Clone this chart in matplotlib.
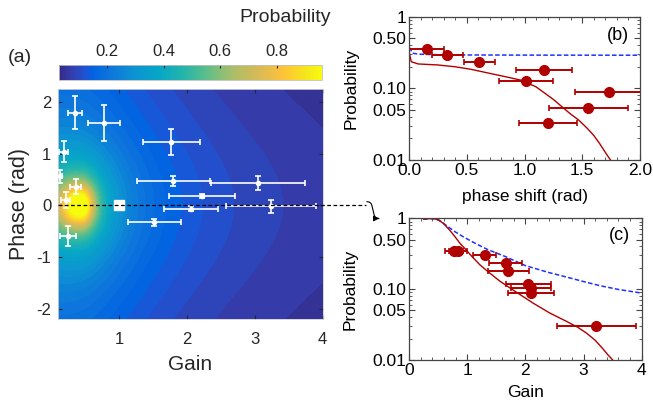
import numpy as np
import matplotlib
matplotlib.use("Agg")
import matplotlib.pyplot as plt
from matplotlib.colors import LinearSegmentedColormap, Normalize
from matplotlib.cm import ScalarMappable
from matplotlib.ticker import MultipleLocator, FixedLocator, NullFormatter, LogLocator, FormatStrFormatter

plt.rcParams["font.family"] = ["Liberation Sans", "DejaVu Sans"]
plt.rcParams["axes.unicode_minus"] = False

# (a) measured points: gain, phase and their errors
a_gain = [0.345, 0.775, 1.77, 0.18, 0.12, 0.36, 0.21, 1.80, 3.05, 2.22, 2.06, 3.24, 1.52, 0.24]
a_phase = [1.79, 1.59, 1.23, 1.04, 0.56, 0.36, 0.10, 0.47, 0.43, 0.18, -0.07, -0.02, -0.33, -0.59]
a_gain_err = [0.10, 0.24, 0.42, 0.07, 0.04, 0.08, 0.07, 0.54, 0.69, 0.49, 0.40, 0.67, 0.39, 0.12]
a_phase_err = [0.32, 0.35, 0.25, 0.21, 0.13, 0.14, 0.15, 0.10, 0.14, 0.04, 0.05, 0.12, 0.07, 0.19]

# theory surface parameters for the probability map
g_peak = 0.43
w_gain_left = 0.22
w_gain_right = 0.127
w_phase = 0.29
phase_gain_coupling = 0.76
tail_power = 0.2

# (b) probability vs phase shift
b_phase = [0.153, 0.332, 0.609, 1.169, 1.013, 1.734, 1.553, 1.206]
b_prob = [0.354, 0.295, 0.233, 0.180, 0.128, 0.088, 0.054, 0.033]
b_phase_err = [0.153, 0.137, 0.134, 0.245, 0.238, 0.30, 0.34, 0.25]
b_blue_x = [0.0, 0.01, 0.03, 0.08, 0.3, 1.0, 2.0]
b_blue_y = [0.37, 0.36, 0.31, 0.30, 0.293, 0.291, 0.290]
b_red_x = [0.0, 0.005, 0.02, 0.08, 0.25, 0.40, 0.54, 0.69, 0.83, 0.97, 1.10, 1.25, 1.39,
           1.47, 1.54, 1.60, 1.65, 1.69, 1.73, 1.745]
b_red_y = [0.34, 0.30, 0.235, 0.219, 0.212, 0.200, 0.184, 0.163, 0.146, 0.130, 0.105, 0.070,
           0.045, 0.036, 0.028, 0.022, 0.017, 0.0135, 0.0108, 0.010]

# (c) probability vs gain
c_gain = [0.77, 0.84, 1.30, 1.66, 1.71, 2.05, 2.10, 2.10, 3.22]
c_prob = [0.35, 0.35, 0.307, 0.237, 0.180, 0.117, 0.105, 0.089, 0.030]
c_gain_err = [0.15, 0.15, 0.20, 0.28, 0.36, 0.385, 0.34, 0.395, 0.68]
c_blue_x = [0.25, 0.35, 0.45, 0.52, 0.59, 0.69, 0.79, 0.93, 1.08, 1.22, 1.36, 1.65, 2.0,
            2.4, 2.71, 3.0, 3.28, 3.6, 4.0]
c_blue_y = [0.97, 0.99, 0.99, 0.94, 0.85, 0.74, 0.647, 0.55, 0.47, 0.41, 0.36, 0.29, 0.215,
            0.172, 0.148, 0.128, 0.112, 0.099, 0.088]
c_red_x = [0.25, 0.35, 0.45, 0.52, 0.59, 0.70, 0.79, 0.88, 0.98, 1.08, 1.22, 1.36, 1.56,
           1.79, 2.14, 2.42, 2.71, 2.90, 3.05, 3.20, 3.33, 3.42, 3.47, 3.50]
c_red_y = [0.97, 0.99, 0.98, 0.93, 0.85, 0.68, 0.55, 0.44, 0.36, 0.29, 0.22, 0.176, 0.13,
           0.097, 0.063, 0.046, 0.035, 0.029, 0.024, 0.019, 0.0145, 0.0118, 0.0107, 0.010]

# parula-like colormap (position, colour)
parula = LinearSegmentedColormap.from_list("parula", [
    (0 / 63, (0.2081, 0.1663, 0.5292)), (3 / 63, (0.2081, 0.2386, 0.6771)),
    (6 / 63, (0.1253, 0.3242, 0.8303)),
    (8 / 63, (0.0117, 0.3875, 0.8820)), (12 / 63, (0.0498, 0.4586, 0.8641)),
    (18 / 63, (0.0488, 0.5772, 0.8228)), (24 / 63, (0.0228, 0.6535, 0.7768)),
    (30 / 63, (0.1453, 0.7098, 0.6646)), (36 / 63, (0.3953, 0.7459, 0.5244)),
    (42 / 63, (0.6834, 0.7435, 0.4044)), (48 / 63, (0.8506, 0.7299, 0.3360)),
    (54 / 63, (0.9990, 0.7653, 0.2164)), (60 / 63, (0.9599, 0.9218, 0.0948)),
    (63 / 63, (0.9763, 0.9831, 0.0538))])
norm = Normalize(0.03, 0.96)

fig = plt.figure(figsize=(6.53, 4.03), dpi=100)
W, H = 653.0, 403.0
ax_a = fig.add_axes([58.3 / W, 84 / H, 264.2 / W, 230 / H])
cax = fig.add_axes([59 / W, 323 / H, 263 / W, 15 / H])
ax_b = fig.add_axes([409 / W, 243 / H, 231 / W, 143.3 / H])
ax_c = fig.add_axes([409 / W, 43 / H, 232.7 / W, 141.7 / H])

# ---- (a) probability map
gg, pp = np.meshgrid(np.linspace(0.1, 4, 400), np.linspace(-2.2, 2.25, 300))
wg = np.where(gg < g_peak, w_gain_left, w_gain_right)
q = ((gg - g_peak) / wg) ** 2 + (pp / w_phase) ** 2 * (1 + phase_gain_coupling * gg ** 2)
prob = (1 + q ** 2) ** (-tail_power)
ax_a.contourf(gg, pp, prob, levels=np.arange(0.0, 1.03, 0.02), cmap=parula, norm=norm)
ax_a.errorbar(a_gain, a_phase, xerr=a_gain_err, yerr=a_phase_err, fmt="o", color="white",
              ms=3, lw=1.2, capsize=2, capthick=1.2, zorder=3)
ax_a.plot([1], [0], "s", color="white", ms=7, zorder=4)
ax_a.plot([0.1, 4.64], [0, 0], "--", color="black", lw=0.9, dashes=(3, 2), clip_on=False, zorder=5)
ax_a.set_xlim(0.1, 4)
ax_a.set_ylim(-2.2, 2.25)
ax_a.set_xticks([1, 2, 3, 4])
ax_a.set_yticks([-2, -1, 0, 1, 2])
ax_a.tick_params(direction="in", top=True, right=True, length=3, color="#262626",
                 labelcolor="#262626", labelsize=12, pad=5)
ax_a.tick_params(axis="x", pad=9)
for s in ax_a.spines.values():
    s.set_color("#d0d0d0")
    s.set_linewidth(0.6)
ax_a.set_xlabel("Gain", fontsize=15, color="#262626", labelpad=6)
ax_a.set_ylabel("Phase (rad)", fontsize=15.5, color="#262626", labelpad=5)

cb = fig.colorbar(ScalarMappable(norm=norm, cmap=parula), cax=cax, orientation="horizontal",
                  ticks=[0.2, 0.4, 0.6, 0.8])
cax.xaxis.set_ticks_position("top")
cax.tick_params(direction="in", length=2, color="#262626", labelcolor="#262626",
                labelsize=12, pad=4)
cb.outline.set_edgecolor("#c0c0c0")
cb.outline.set_linewidth(0.6)
fig.text(331 / W, 1 - 18 / H, "Probability", ha="right", va="center", fontsize=14, color="#262626")
fig.text(20 / W, 1 - 57 / H, "(a)", ha="center", va="center", fontsize=14, color="#262626")

# curved arrow to panel (c)
ax_a.annotate("", xy=(382 / W, 1 - 218.5 / H), xytext=(364 / W, 1 - 201.7 / H),
              xycoords="figure fraction", textcoords="figure fraction",
              arrowprops=dict(arrowstyle="-|>", lw=0.8, color="black", mutation_scale=8,
                              connectionstyle="arc,angleA=0,angleB=180,armA=7,armB=7,rad=4"))

# ---- (b) and (c)
red = "#b00000"


def style_log(ax):
    ax.set_yscale("log")
    ax.set_ylim(0.01, 1)
    ax.yaxis.set_major_locator(FixedLocator([0.01, 0.05, 0.1, 0.5, 1]))
    ax.set_yticklabels(["0.01", "0.05", "0.10", "0.50", "1"])
    ax.yaxis.set_minor_locator(LogLocator(base=10, subs=np.arange(2, 10)))
    ax.yaxis.set_minor_formatter(NullFormatter())
    ax.tick_params(which="both", direction="in", top=True, right=True, labelsize=12.5,
                   color="#444444", pad=2)
    ax.tick_params(which="major", length=4)
    ax.tick_params(which="minor", length=2)
    for s in ax.spines.values():
        s.set_color("#444444")
        s.set_linewidth(0.9)
    ax.set_ylabel("Probability", fontsize=12.5)
    ax.yaxis.set_label_coords(-0.22, 0.5)


style_log(ax_b)
ax_b.plot(b_blue_x, b_blue_y, "--", color="#2030ff", lw=1.1, dashes=(3, 1.5))
ax_b.plot(b_red_x, b_red_y, "-", color=red, lw=1.0)
ax_b.errorbar(b_phase, b_prob, xerr=b_phase_err, fmt="o", color=red, ms=7, lw=1.4,
              capsize=2, capthick=1.2)
ax_b.set_xlim(0, 2)
ax_b.xaxis.set_major_locator(MultipleLocator(0.5))
ax_b.xaxis.set_minor_locator(MultipleLocator(0.1))
ax_b.xaxis.set_major_formatter(FormatStrFormatter("%.1f"))
ax_b.set_xlabel("phase shift (rad)", fontsize=12.5, labelpad=8)
ax_b.text(0.905, 0.872, "(b)", transform=ax_b.transAxes, ha="center", va="center", fontsize=13)

style_log(ax_c)
ax_c.plot(c_blue_x, c_blue_y, "--", color="#2030ff", lw=1.1, dashes=(3, 1.5))
ax_c.plot(c_red_x, c_red_y, "-", color=red, lw=1.0)
ax_c.errorbar(c_gain, c_prob, xerr=c_gain_err, fmt="o", color=red, ms=7, lw=1.4,
              capsize=2, capthick=1.2)
ax_c.set_xlim(0, 4)
ax_c.xaxis.set_major_locator(MultipleLocator(1))
ax_c.xaxis.set_minor_locator(MultipleLocator(0.2))
ax_c.set_xlabel("Gain", fontsize=12.5, labelpad=5)
ax_c.text(0.9025, 0.879, "(c)", transform=ax_c.transAxes, ha="center", va="center", fontsize=13)

fig.savefig("out.png", dpi=100)
